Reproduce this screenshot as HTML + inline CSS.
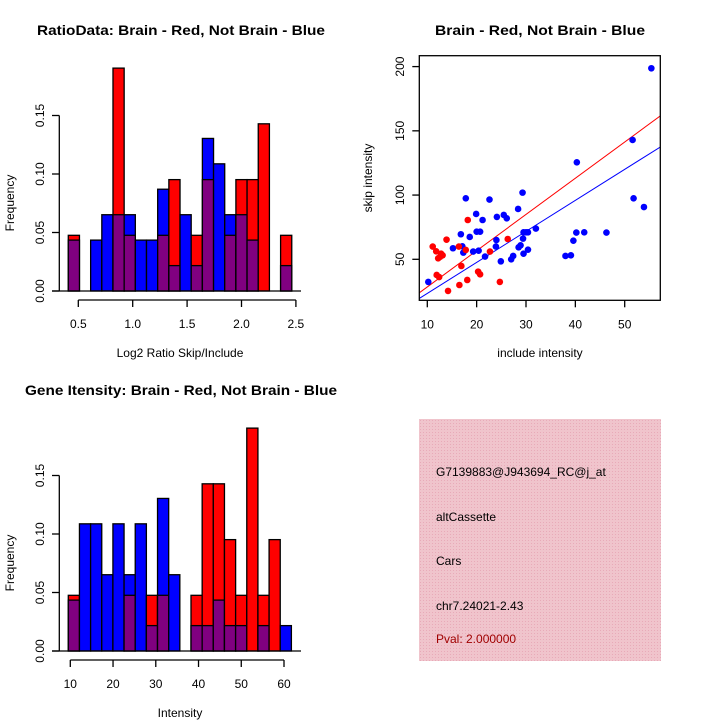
<!DOCTYPE html>
<html><head><meta charset="utf-8"><style>
html,body{margin:0;padding:0;background:#fff}
svg{display:block;font-family:"Liberation Sans",sans-serif}
</style></head><body>
<svg id="root" width="720" height="720" viewBox="0 0 720 720" xmlns="http://www.w3.org/2000/svg">
<defs>
<pattern id="hatch" width="3" height="3" patternUnits="userSpaceOnUse">
<rect width="3" height="3" fill="#f0c4cc"/>
<rect width="1" height="1" fill="#e8aab8"/>
</pattern>
</defs>
<g id="p1"></g>
<g id="p2"></g>
<g id="p3"></g>
<g id="p4">
<rect x="419" y="419" width="242" height="242" fill="url(#hatch)"/>
<text x="436" y="476" font-size="12">G7139883@J943694_RC@j_at</text>
<text x="436" y="521" font-size="12">altCassette</text>
<text x="436" y="565" font-size="12">Cars</text>
<text x="436" y="610" font-size="12">chr7.24021-2.43</text>
<text x="436" y="643" font-size="12" fill="#a00000">Pval: 2.000000</text>
</g>
</svg>
<script>
const NS="http://www.w3.org/2000/svg";
// ---- Ratio histogram data ----
const ratioBinStart=0.408, ratioBinWidth=0.1027;
const ratioRed=[0.0476,0,0,0,0.1905,0.0476,0,0,0.0476,0.0952,0,0.0476,0.0952,0,0.0476,0.0952,0.0952,0.1429,0,0.0476];
const ratioBlue=[0.0435,0,0.0435,0.0652,0.0652,0.0652,0.0435,0.0435,0.087,0.0217,0.0652,0.0217,0.1304,0.1087,0.0652,0.0652,0.0435,0,0,0.0217];
const ratioXTicks=[0.5,1.0,1.5,2.0,2.5];
const ratioXTickLabels=["0.5","1.0","1.5","2.0","2.5"];
// ---- Gene intensity histogram data ----
const geneBinStart=9.53, geneBinWidth=2.61;
const geneRed=[0.0476,0,0,0,0,0.0476,0,0.0476,0.0476,0,0,0.0476,0.1429,0.1429,0.0952,0.0476,0.1905,0.0476,0.0952,0];
const geneBlue=[0.0435,0.1087,0.1087,0.0652,0.1087,0.0652,0.1087,0.0217,0.1304,0.0652,0,0.0217,0.0217,0.0435,0.0217,0.0217,0,0.0217,0,0.0217];
const geneXTicks=[10,20,30,40,50,60];
const geneXTickLabels=["10","20","30","40","50","60"];
const freqTicks=[0,0.05,0.10,0.15];
const freqTickLabels=["0.00","0.05","0.10","0.15"];
// ---- Scatter data ----
const blueX=[10.2,17.8,22.6,29.3,28.4,19.9,21.2,24.1,25.5,26.1,16.8,18.6,15.2,17.1,17.3,19.3,20.4,20.0,20.7,21.7,24.0,23.9,24.9,27.0,27.4,28.5,28.9,29.4,29.5,30.0,30.4,29.5,30.4,32.0,38.0,39.1,39.6,40.2,40.3,41.8,46.3,51.6,51.8,53.9,55.4];
const blueY=[32.4,97.5,96.5,101.9,89.2,85.3,80.6,83.0,84.5,81.9,69.5,67.4,58.6,60.1,55.2,56.0,56.7,71.5,71.5,52.1,65.0,59.9,48.4,50.0,52.6,59.3,60.9,66.1,71.0,71.0,71.0,54.4,57.5,73.9,52.6,53.1,64.5,70.8,125.5,71.0,70.8,142.9,97.5,90.7,198.7];
const redX=[11.1,11.8,12.2,12.8,13.1,11.9,12.4,13.9,14.2,16.4,16.9,16.5,17.8,18.1,18.2,20.3,20.7,22.7,24.7,26.3,12.6];
const redY=[59.9,56.2,50.8,54.4,53.1,37.8,36.2,65.3,25.4,59.9,44.8,30.0,57.3,33.9,80.6,40.4,38.3,56.0,32.4,65.8,52.0];
const redFit=[0.3,2.82];   // intercept, slope
const blueFit=[-0.7,2.414];
const scXTicks=[10,20,30,40,50];
const scYTicks=[50,100,150,200];

function mk(parent,tag,attrs,text){const e=document.createElementNS(NS,tag);for(const k in attrs)e.setAttribute(k,attrs[k]);if(text!==undefined)e.textContent=text;parent.appendChild(e);return e;}

function hist(g,opt){
  const xs=v=>opt.x0+(v-opt.d0)*opt.kx;
  const ys=v=>opt.y0-v*opt.ky;
  opt.red.forEach((r,i)=>{
    const b=opt.blue[i];const L=xs(opt.bs+i*opt.bw),R=xs(opt.bs+(i+1)*opt.bw);
    const hi=Math.max(r,b),lo=Math.min(r,b);
    if(hi>0){
      const e=mk(g,'rect',{x:L,y:ys(hi),width:R-L,height:ys(0)-ys(hi),fill:r>=b?'#ff0000':'#0000ff',stroke:'#000','stroke-width':1.3});
      
      
    }
    if(lo>0){
      const e=mk(g,'rect',{x:L,y:ys(lo),width:R-L,height:ys(0)-ys(lo),fill:'#800080',stroke:'#000','stroke-width':1.3});
      
      
    }
  });
  // baseline
  let e=mk(g,'line',{x1:52,x2:301,y1:opt.y0,y2:opt.y0,stroke:'#000','stroke-width':1.3});
  
  // y axis
  e=mk(g,'line',{x1:59.3,x2:59.3,y1:ys(0),y2:ys(0.15),stroke:'#000','stroke-width':1.3});
  
  freqTicks.forEach((t,i)=>{
    mk(g,'line',{x1:52,x2:59.3,y1:ys(t),y2:ys(t),stroke:'#000','stroke-width':1.3});
    const tx=mk(g,'text',{x:44,y:ys(t),'font-size':12,'text-anchor':'middle',transform:`rotate(-90 44 ${ys(t)})`},freqTickLabels[i]);
    
  });
  // x axis
  const ay=opt.y0+9;
  e=mk(g,'line',{x1:xs(opt.xt[0]),x2:xs(opt.xt[opt.xt.length-1]),y1:ay,y2:ay,stroke:'#000','stroke-width':1.3});
  
  opt.xt.forEach((t,i)=>{
    mk(g,'line',{x1:xs(t),x2:xs(t),y1:ay,y2:ay+7,stroke:'#000','stroke-width':1.3});
    const tx=mk(g,'text',{x:xs(t),y:ay+28,'font-size':12,'text-anchor':'middle'},opt.xl[i]);
    
  });
  let t=mk(g,'text',{x:14,y:opt.y0-88,'font-size':12,'text-anchor':'middle',transform:`rotate(-90 14 ${opt.y0-88})`},'Frequency');
  
  t=mk(g,'text',{x:opt.xlabX,y:opt.y0+66,'font-size':12,'text-anchor':'middle'},opt.xlab);
  
  t=mk(g,'text',{x:opt.titleX,y:opt.titleY,'font-size':14,'font-weight':'bold','text-anchor':'middle',textLength:opt.titleW,lengthAdjust:'spacingAndGlyphs'},opt.title);
  
}
hist(document.getElementById('p1'),{x0:78.3,d0:0.5,kx:108.8,y0:291,ky:1170,bs:ratioBinStart,bw:ratioBinWidth,red:ratioRed,blue:ratioBlue,xt:ratioXTicks,xl:ratioXTickLabels,xlab:'Log2 Ratio Skip/Include',xlabX:180,title:'RatioData: Brain - Red, Not Brain - Blue',titleX:181,titleY:35,titleW:288});
hist(document.getElementById('p3'),{x0:70.3,d0:10,kx:4.274,y0:651,ky:1170,bs:geneBinStart,bw:geneBinWidth,red:geneRed,blue:geneBlue,xt:geneXTicks,xl:geneXTickLabels,xlab:'Intensity',xlabX:180,title:'Gene Itensity: Brain - Red, Not Brain - Blue',titleX:181,titleY:395,titleW:312});

// scatter
(function(){
  const g=document.getElementById('p2');
  const L=419.3,R=660.3,T=55.7,B=300.3;
  const xs=v=>427.3+(v-10)*4.935;
  const ys=v=>259.3-(v-50)*1.2847;
  const xd=px=>10+(px-427.3)/4.935;
  mk(g,'clipPath',{id:'scClip'}).appendChild(Object.assign(document.createElementNS(NS,'rect'),{}));
  const cp=g.querySelector('#scClip rect');cp.setAttribute('x',L);cp.setAttribute('y',T);cp.setAttribute('width',R-L);cp.setAttribute('height',B-T);
  [[redFit,'#ff0000','fit-line-red'],[blueFit,'#0000ff','fit-line-blue']].forEach(([f,c,n])=>{
    const xa=xd(L),xb=xd(R);
    const e=mk(g,'line',{x1:L,x2:R,y1:ys(f[0]+f[1]*xa),y2:ys(f[0]+f[1]*xb),stroke:c,'stroke-width':1,'clip-path':'url(#scClip)'});
    
  });
  blueX.forEach((x,i)=>{const e=mk(g,'circle',{cx:xs(x),cy:ys(blueY[i]),r:3.3,fill:'#0000ff'});
    });
  redX.forEach((x,i)=>{const e=mk(g,'circle',{cx:xs(x),cy:ys(redY[i]),r:3.3,fill:'#ff0000'});
    });
  let e=mk(g,'rect',{x:L,y:T,width:R-L,height:B-T,fill:'none',stroke:'#000','stroke-width':1.3});
  
  scXTicks.forEach(t=>{
    mk(g,'line',{x1:xs(t),x2:xs(t),y1:B,y2:B+7,stroke:'#000','stroke-width':1.3});
    const tx=mk(g,'text',{x:xs(t),y:B+28,'font-size':12,'text-anchor':'middle'},String(t));
    
  });
  scYTicks.forEach(t=>{
    mk(g,'line',{x1:L-7,x2:L,y1:ys(t),y2:ys(t),stroke:'#000','stroke-width':1.3});
    const tx=mk(g,'text',{x:404,y:ys(t),'font-size':12,'text-anchor':'middle',transform:`rotate(-90 404 ${ys(t)})`},String(t));
    
  });
  let t=mk(g,'text',{x:540,y:357,'font-size':12,'text-anchor':'middle'},'include intensity');
  
  t=mk(g,'text',{x:372,y:178,'font-size':12,'text-anchor':'middle',transform:'rotate(-90 372 178)'},'skip intensity');
  
  t=mk(g,'text',{x:540,y:35,'font-size':14,'font-weight':'bold','text-anchor':'middle',textLength:210,lengthAdjust:'spacingAndGlyphs'},'Brain - Red, Not Brain - Blue');
  
})();
</script>
</body></html>
